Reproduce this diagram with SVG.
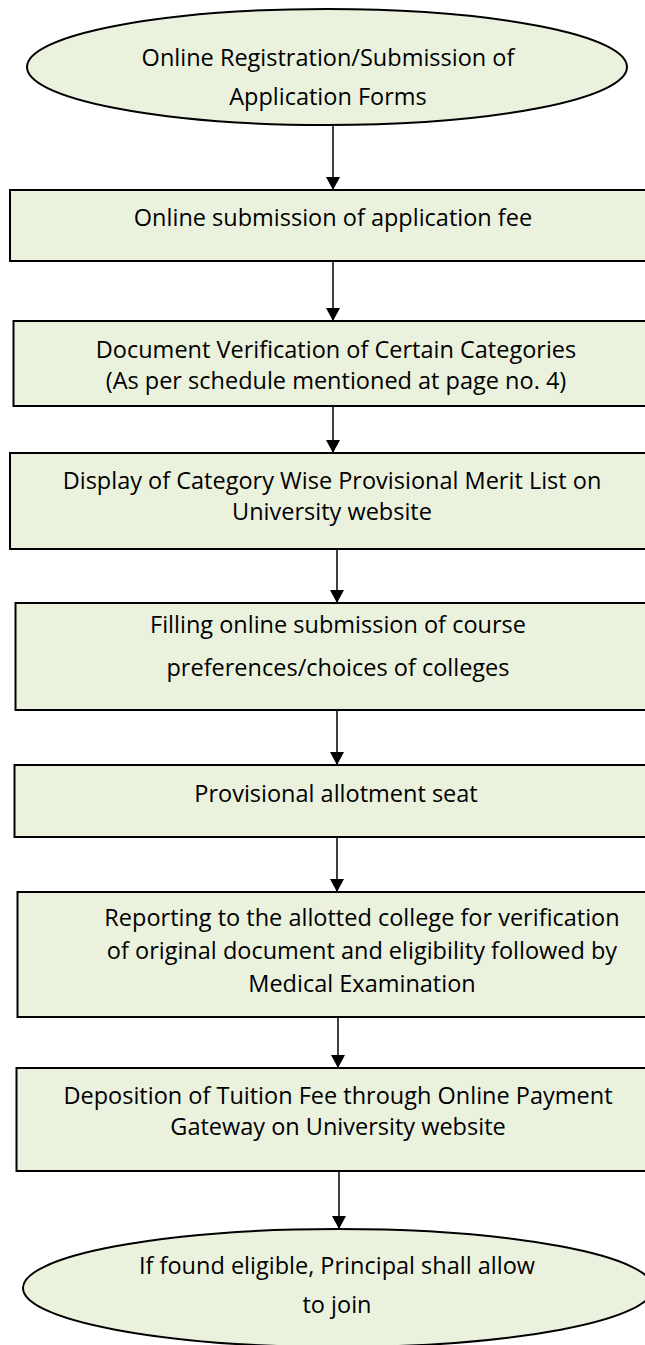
<svg xmlns="http://www.w3.org/2000/svg" width="645" height="1345" viewBox="0 0 645 1345">
<style>
.n{fill:#EAF1DD;stroke:#000;stroke-width:2}
.t{font-family:"Open Sans","Noto Sans","Liberation Sans",sans-serif;font-size:23.5px;fill:#000;text-anchor:middle}
.c{stroke:#000;stroke-width:1.5;fill:none}
</style>
<defs>
<marker id="ah" markerUnits="userSpaceOnUse" markerWidth="13" markerHeight="14" refX="13" refY="7" orient="auto" viewBox="0 0 13 14">
<path d="M0,0 L13,7 L0,14 z" fill="#000"/>
</marker>
</defs>
<rect width="645" height="1345" fill="#fff"/>
<g id="connectors">
<line class="c" x1="333" y1="125" x2="333" y2="190" marker-end="url(#ah)"/>
<line class="c" x1="333" y1="261" x2="333" y2="321" marker-end="url(#ah)"/>
<line class="c" x1="333" y1="406" x2="333" y2="453" marker-end="url(#ah)"/>
<line class="c" x1="337" y1="549" x2="337" y2="603" marker-end="url(#ah)"/>
<line class="c" x1="337" y1="710" x2="337" y2="765" marker-end="url(#ah)"/>
<line class="c" x1="337" y1="837" x2="337" y2="892" marker-end="url(#ah)"/>
<line class="c" x1="338" y1="1017" x2="338" y2="1068" marker-end="url(#ah)"/>
<line class="c" x1="339" y1="1171" x2="339" y2="1229" marker-end="url(#ah)"/>
</g>
<g id="start">
<ellipse class="n" cx="327" cy="67" rx="300" ry="58"/>
<text class="t" x="328" y="66">Online Registration/Submission of</text>
<text class="t" x="328" y="105">Application Forms</text>
</g>
<g id="fee">
<rect class="n" x="10" y="190" width="646" height="71"/>
<text class="t" x="333" y="226">Online submission of application fee</text>
</g>
<g id="docver">
<rect class="n" x="13.5" y="321" width="643" height="85"/>
<text class="t" x="336" y="358">Document Verification of Certain Categories</text>
<text class="t" x="336" y="389">(As per schedule mentioned at page no. 4)</text>
</g>
<g id="merit">
<rect class="n" x="10" y="453" width="646" height="96"/>
<text class="t" x="332" y="489">Display of Category Wise Provisional Merit List on</text>
<text class="t" x="332" y="520">University website</text>
</g>
<g id="prefs">
<rect class="n" x="15.5" y="603" width="641" height="107"/>
<text class="t" x="338" y="633">Filling online submission of course</text>
<text class="t" x="338" y="676">preferences/choices of colleges</text>
</g>
<g id="allot">
<rect class="n" x="14.5" y="765" width="642" height="72"/>
<text class="t" x="336" y="802">Provisional allotment seat</text>
</g>
<g id="report">
<rect class="n" x="17.5" y="892" width="639" height="125"/>
<text class="t" x="362" y="926">Reporting to the allotted college for verification</text>
<text class="t" x="362" y="959">of original document and eligibility followed by</text>
<text class="t" x="362" y="992">Medical Examination</text>
</g>
<g id="tuition">
<rect class="n" x="16.5" y="1068" width="640" height="103"/>
<text class="t" x="338" y="1104">Deposition of Tuition Fee through Online Payment</text>
<text class="t" x="338" y="1135">Gateway on University website</text>
</g>
<g id="end">
<ellipse class="n" cx="338" cy="1288" rx="315" ry="59"/>
<text class="t" x="337" y="1274">If found eligible, Principal shall allow</text>
<text class="t" x="337" y="1313">to join</text>
</g>
</svg>
